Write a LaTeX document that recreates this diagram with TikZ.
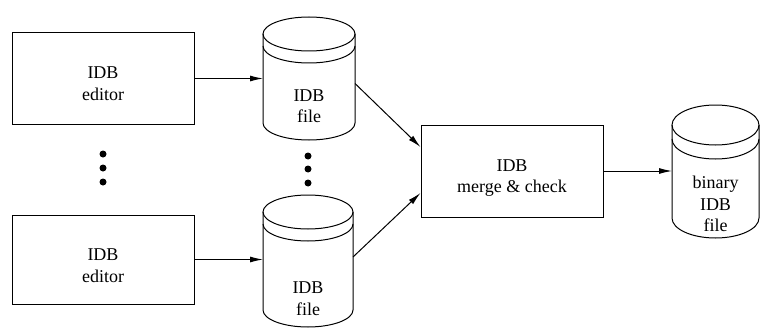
\documentclass[tikz,border=0pt]{standalone}
\usepackage{fontspec}
\setmainfont{Liberation Serif}
\usetikzlibrary{arrows.meta,calc}
\newcommand{\dbcyl}[4]{%
  \draw ([yshift=-#3]#1.north west) -- ([yshift=#3]#1.south west)
     arc[start angle=180,end angle=360,x radius=#2,y radius=#3]
     -- ([yshift=-#3]#1.north east);
  \draw ([yshift=-#3]#1.north) ellipse[x radius=#2,y radius=#3];
  \draw ([yshift=-#3-#4]#1.north west) arc[start angle=180,end angle=360,x radius=#2,y radius=#3];
}
\begin{document}
\begin{tikzpicture}[x=1pt,y=1pt, line width=1pt,
  box/.style={draw, rectangle, minimum width=182pt, minimum height=91pt, inner sep=0pt},
  cylbody/.style={rectangle, draw=none, inner sep=0pt, outer sep=0pt},
  lbl/.style={align=center, font=\fontsize{18}{21.5}\selectfont, inner sep=0pt},
  arr/.style={-{Latex[length=13pt,width=6pt]}},
  dot/.style={circle, fill, inner sep=0pt, minimum size=7pt}]
\useasboundingbox (0,0) rectangle (760,-329);
% boxes
\node[box] (ed1) at (103,-78.5) {};
\node[box, minimum height=89pt] (ed2) at (103,-259.5) {};
\node[box, minimum height=92pt] (mc) at (512,-171) {};
\node[lbl] (l1) at ([yshift=-5pt]ed1.center) {IDB\\editor};
\node[lbl] (l2) at ([yshift=-6pt]ed2.center) {IDB\\editor};
\node[lbl] (l3) at ([yshift=-7pt]mc.center) {IDB\\merge \& check};
% cylinders
\node[cylbody, minimum width=92pt, minimum height=123pt] (f1) at (309,-78.5) {};
\node[cylbody, minimum width=90pt, minimum height=132pt] (f2) at (308,-261) {};
\node[cylbody, minimum width=87pt, minimum height=133pt] (bf) at (715.5,-171.5) {};
\dbcyl{f1}{46pt}{17pt}{12pt}
\dbcyl{f2}{45pt}{17pt}{12pt}
\dbcyl{bf}{43.5pt}{20pt}{14pt}
\node[lbl] (t1) at (309,-106) {IDB\\file};
\node[lbl] (t2) at (308,-298.5) {IDB\\file};
\node[lbl] (t3) at (715.5,-204) {binary\\IDB\\file};
% dots
\node[dot] (a1) at (103,-154) {};
\node[dot] (a2) at (103,-168) {};
\node[dot] (a3) at (103,-182) {};
\node[dot] (b1) at (308,-156) {};
\node[dot] (b2) at (308,-169) {};
\node[dot] (b3) at (308,-183) {};
% arrows
\draw[arr] (ed1.east) -- (ed1.east -| f1.west);
\draw[arr] (ed2.east) -- (ed2.east -| f2.west);
\draw[arr] ([yshift=-5pt]f1.east) -- ([yshift=24pt]mc.west);
\draw[arr] ([yshift=4pt]f2.east) -- ([yshift=-22pt]mc.west);
\draw[arr] (mc.east) -- (mc.east -| bf.west);
\end{tikzpicture}
\end{document}
